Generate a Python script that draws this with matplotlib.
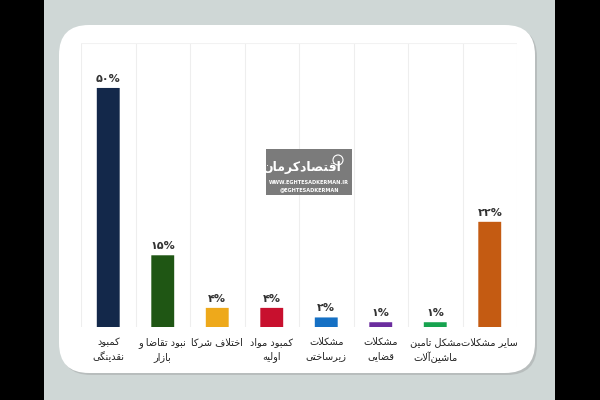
# -*- coding: utf-8 -*-
"""Survey chart: main problems of firms (Persian labels, shaped by hand)."""

import matplotlib
matplotlib.use("Agg")
import matplotlib.pyplot as plt
from matplotlib.patches import FancyBboxPatch, Rectangle, Circle

# -------------------------------------------------------------------
# Data
# -------------------------------------------------------------------
categories = [
    "کمبود\nنقدینگی",
    "نبود تقاضا و\nبازار",
    "اختلاف شرکا",
    "کمبود مواد\nاولیه",
    "مشکلات\nزیرساختی",
    "مشکلات\nقضایی",
    "مشکل تامین\nماشین\u200cآلات",
    "سایر مشکلات",
]
values = [50, 15, 4, 4, 2, 1, 1, 22]
value_labels = ["۵۰%", "۱۵%", "۴%", "۴%", "۲%", "۱%", "۱%", "۲۲%"]
colors = ["#13284a", "#1f5614", "#eea91b", "#c8102e",
          "#1570c4", "#6b2d9e", "#17a34f", "#c45b12"]

# -------------------------------------------------------------------
# Minimal Arabic/Persian shaping (matplotlib has no bidi/shaping)
# forms: isolated, final, initial, medial
# -------------------------------------------------------------------
FORMS = {
    "ا": (0xFE8D, 0xFE8E), "آ": (0xFE81, 0xFE82),
    "ب": (0xFE8F, 0xFE90, 0xFE91, 0xFE92), "پ": (0xFB56, 0xFB57, 0xFB58, 0xFB59),
    "ت": (0xFE95, 0xFE96, 0xFE97, 0xFE98), "ث": (0xFE99, 0xFE9A, 0xFE9B, 0xFE9C),
    "ج": (0xFE9D, 0xFE9E, 0xFE9F, 0xFEA0), "چ": (0xFB7A, 0xFB7B, 0xFB7C, 0xFB7D),
    "ح": (0xFEA1, 0xFEA2, 0xFEA3, 0xFEA4), "خ": (0xFEA5, 0xFEA6, 0xFEA7, 0xFEA8),
    "د": (0xFEA9, 0xFEAA), "ذ": (0xFEAB, 0xFEAC), "ر": (0xFEAD, 0xFEAE),
    "ز": (0xFEAF, 0xFEB0), "ژ": (0xFB8A, 0xFB8B),
    "س": (0xFEB1, 0xFEB2, 0xFEB3, 0xFEB4), "ش": (0xFEB5, 0xFEB6, 0xFEB7, 0xFEB8),
    "ص": (0xFEB9, 0xFEBA, 0xFEBB, 0xFEBC), "ض": (0xFEBD, 0xFEBE, 0xFEBF, 0xFEC0),
    "ط": (0xFEC1, 0xFEC2, 0xFEC3, 0xFEC4), "ظ": (0xFEC5, 0xFEC6, 0xFEC7, 0xFEC8),
    "ع": (0xFEC9, 0xFECA, 0xFECB, 0xFECC), "غ": (0xFECD, 0xFECE, 0xFECF, 0xFED0),
    "ف": (0xFED1, 0xFED2, 0xFED3, 0xFED4), "ق": (0xFED5, 0xFED6, 0xFED7, 0xFED8),
    "ک": (0xFB8E, 0xFB8F, 0xFB90, 0xFB91), "گ": (0xFB92, 0xFB93, 0xFB94, 0xFB95),
    "ل": (0xFEDD, 0xFEDE, 0xFEDF, 0xFEE0), "م": (0xFEE1, 0xFEE2, 0xFEE3, 0xFEE4),
    "ن": (0xFEE5, 0xFEE6, 0xFEE7, 0xFEE8), "ه": (0xFEE9, 0xFEEA, 0xFEEB, 0xFEEC),
    "و": (0xFEED, 0xFEEE), "ی": (0xFBFC, 0xFBFD, 0xFBFE, 0xFBFF),
}
LAM_ALEF = {"ا": (0xFEFB, 0xFEFC), "آ": (0xFEF5, 0xFEF6)}


def shape_line(text):
    out = []
    n = len(text)
    i = 0
    while i < n:
        c = text[i]
        if c not in FORMS:
            if c != "\u200c":
                out.append(c)
            i += 1
            continue
        prev = text[i - 1] if i > 0 else ""
        prev_joins = prev in FORMS and len(FORMS[prev]) == 4
        if c == "ل" and i + 1 < n and text[i + 1] in LAM_ALEF:
            lig = LAM_ALEF[text[i + 1]]
            out.append(chr(lig[1] if prev_joins else lig[0]))
            i += 2
            continue
        nxt = text[i + 1] if i + 1 < n else ""
        next_joins = len(FORMS[c]) == 4 and nxt in FORMS
        f = FORMS[c]
        if prev_joins and next_joins:
            out.append(chr(f[3]))
        elif prev_joins:
            out.append(chr(f[1]))
        elif next_joins:
            out.append(chr(f[2]))
        else:
            out.append(chr(f[0]))
        i += 1
    return "".join(reversed(out))


def fa(text):
    return "\n".join(shape_line(line) for line in text.split("\n"))


# -------------------------------------------------------------------
# Figure
# -------------------------------------------------------------------
fig = plt.figure(figsize=(6, 4), dpi=100, facecolor="black")

bg = fig.add_axes([0, 0, 1, 1])
bg.set_xlim(0, 600)
bg.set_ylim(400, 0)
bg.axis("off")
bg.add_patch(Rectangle((44, 0), 511, 400, facecolor="#cfd7d6", edgecolor="none"))
bg.add_patch(FancyBboxPatch((61, 27), 476, 348,
                            boxstyle="round,pad=0,rounding_size=30",
                            facecolor="#a9adad", edgecolor="none", alpha=0.6))
bg.add_patch(FancyBboxPatch((59, 25), 476, 348,
                            boxstyle="round,pad=0,rounding_size=30",
                            facecolor="white", edgecolor="none"))

ax = fig.add_axes([81 / 600, 1 - 327 / 400, 436 / 600, 284 / 400])
ax.set_facecolor("none")
ax.set_xlim(-0.5, len(values) - 0.5)
ax.set_ylim(0, 59.4)
for s in ax.spines.values():
    s.set_visible(False)
ax.set_xticks([])
ax.set_yticks([])
for b in range(len(values) + 1):
    ax.axvline(b - 0.5, color="#eeeeee", lw=0.8, zorder=0)
ax.axhline(59.4, color="#f2f2f2", lw=0.8, zorder=0)

bar_w = 0.42
px_per_unit = 284 / 59.4
data_per_px_x = len(values) / 436
r = 3.5
for i, (v, col) in enumerate(zip(values, colors)):
    ax.add_patch(FancyBboxPatch(
        (i - bar_w / 2, -2), bar_w, v + 2,
        boxstyle=f"round,pad=0,rounding_size={r * data_per_px_x}",
        mutation_aspect=data_per_px_x * px_per_unit,
        facecolor=col, edgecolor="none", clip_on=True, zorder=2))
    ax.annotate(value_labels[i], (i, v), xytext=(0, 3), textcoords="offset points",
                ha="center", va="bottom", fontsize=8, color="#333333",
                fontweight="bold")
    ax.annotate(fa(categories[i]), (i, 0), xytext=(0, -7), textcoords="offset points",
                ha="center", va="top", fontsize=7.0, color="#222222",
                linespacing=1.55, multialignment="center", annotation_clip=False)

# watermark logo, drawn on its own overlay so grid lines stay below it
wm = fig.add_axes([0, 0, 1, 1])
wm.set_xlim(0, 600)
wm.set_ylim(400, 0)
wm.axis("off")
wm.add_patch(Rectangle((266, 149), 86, 46, facecolor="#7b7b7b", edgecolor="none"))
wm.add_patch(Circle((338, 160), 5, facecolor="none", edgecolor="white", lw=0.8))
wm.text(302, 167, fa("اقتصادکرمان"), ha="center", va="center",
        fontsize=9, color="white", fontweight="bold")
wm.text(309, 183, "WWW.EGHTESADKERMAN.IR", ha="center", va="center",
        fontsize=3.6, color="white", fontweight="bold")
wm.text(309, 190, "@EGHTESADKERMAN", ha="center", va="center",
        fontsize=3.6, color="white", fontweight="bold")

fig.savefig("out.png", dpi=100, facecolor="black")
